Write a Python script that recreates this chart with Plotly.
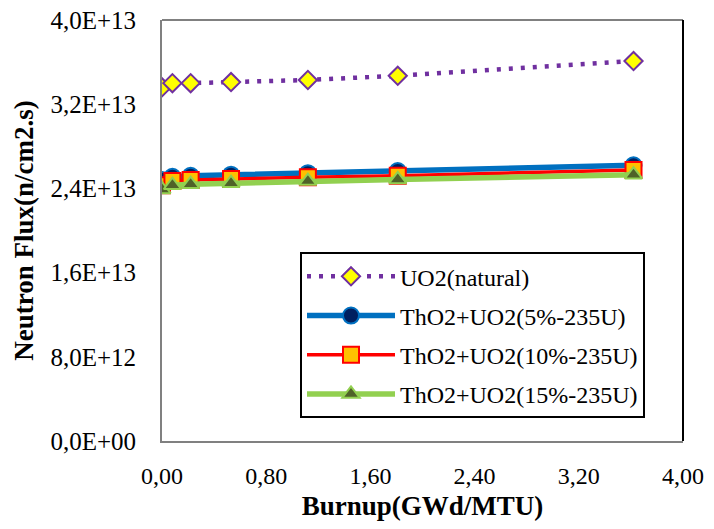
import plotly.graph_objects as go

burnup = [0.0, 0.08, 0.22, 0.53, 1.12, 1.81, 3.62]
uo2_natural = [33.6e12, 34.0e12, 34.0e12, 34.1e12, 34.3e12, 34.7e12, 36.1e12]
tho2_5 = [24.8e12, 25.1e12, 25.2e12, 25.3e12, 25.45e12, 25.65e12, 26.2e12]
tho2_10 = [24.3e12, 24.7e12, 24.8e12, 24.9e12, 25.05e12, 25.2e12, 25.75e12]
tho2_15 = [23.9e12, 24.3e12, 24.4e12, 24.5e12, 24.7e12, 24.85e12, 25.3e12]

names = ["UO2(natural)", "ThO2+UO2(5%-235U)", "ThO2+UO2(10%-235U)", "ThO2+UO2(15%-235U)"]

x_tickvals = [0, 0.8, 1.6, 2.4, 3.2, 4.0]
x_ticktext = ["0,00", "0,80", "1,60", "2,40", "3,20", "4,00"]
y_tickvals = [0, 8e12, 1.6e13, 2.4e13, 3.2e13, 4.0e13]
y_ticktext = ["0,0E+00", "8,0E+12", "1,6E+13", "2,4E+13", "3,2E+13", "4,0E+13"]

FONT = "Liberation Serif"

fig = go.Figure()
fig.add_trace(go.Scatter(
    x=burnup, y=uo2_natural, name=names[0], mode="lines+markers",
    line=dict(color="#7030A0", width=4.5, dash="4px,8px"),
    marker=dict(symbol="diamond", size=14, color="#FFFF00",
                line=dict(color="#7030A0", width=2)),
    legendgroup="a"))
fig.add_trace(go.Scatter(
    x=burnup, y=tho2_5, name=names[1], mode="lines+markers",
    line=dict(color="#0070C0", width=5.5),
    marker=dict(symbol="circle", size=16, color="#002060",
                line=dict(color="#0070C0", width=2)),
    legendgroup="b"))
fig.add_trace(go.Scatter(
    x=burnup, y=tho2_10, name=names[2], mode="lines+markers",
    line=dict(color="#FF0000", width=3.5),
    marker=dict(symbol="square", size=16, color="#FFC000",
                line=dict(color="#FF0000", width=2)),
    legendgroup="c"))
fig.add_trace(go.Scatter(
    x=burnup, y=tho2_15, name=names[3], mode="lines+markers",
    line=dict(color="#92D050", width=5.5),
    marker=dict(symbol="triangle-up", size=15, color="#4F6228",
                line=dict(color="#92D050", width=2)),
    legendgroup="d"))

fig.update_layout(
    width=698, height=513,
    margin=dict(l=154, r=23, t=12, b=80),
    paper_bgcolor="white", plot_bgcolor="white",
    font=dict(family=FONT, size=22, color="black"),
    showlegend=True,
    legend=dict(
        x=(300 - 162) / 521, y=(441 - 252) / 421.5, xanchor="left", yanchor="top",
        bordercolor="black", borderwidth=2, bgcolor="white",
        font=dict(family=FONT, size=24, color="black"),
        itemwidth=88, traceorder="grouped", tracegroupgap=5,
    ),
    xaxis=dict(
        range=[0, 4], tickvals=x_tickvals, ticktext=x_ticktext,
        showgrid=False, zeroline=False, showline=True, automargin=False,
        linecolor="#808080", linewidth=2, ticks="",
        ticklabelstandoff=12, ticklabeloverflow="allow",
        tickfont=dict(family=FONT, size=24),
        title=dict(text="<b>Burnup(GWd/MTU)</b>",
                   font=dict(family=FONT, size=27), standoff=15),
    ),
    yaxis=dict(
        range=[0, 4e13], tickvals=y_tickvals, ticktext=y_ticktext,
        showgrid=False, zeroline=False, showline=True, automargin=False,
        linecolor="#808080", linewidth=2, ticks="",
        ticklabelstandoff=19, ticklabeloverflow="allow",
        tickfont=dict(family=FONT, size=25),
        title=dict(text="<b>Neutron Flux(n/cm2.s)</b>",
                   font=dict(family=FONT, size=27), standoff=9),
    ),
    shapes=[
        dict(type="line", xref="paper", yref="paper", x0=0, x1=1, y0=1, y1=1,
             line=dict(color="#808080", width=2), layer="above"),
        dict(type="line", xref="paper", yref="paper", x0=1, x1=1, y0=0, y1=1,
             line=dict(color="black", width=2), layer="above"),
    ],
)

fig.write_html("out.html")
